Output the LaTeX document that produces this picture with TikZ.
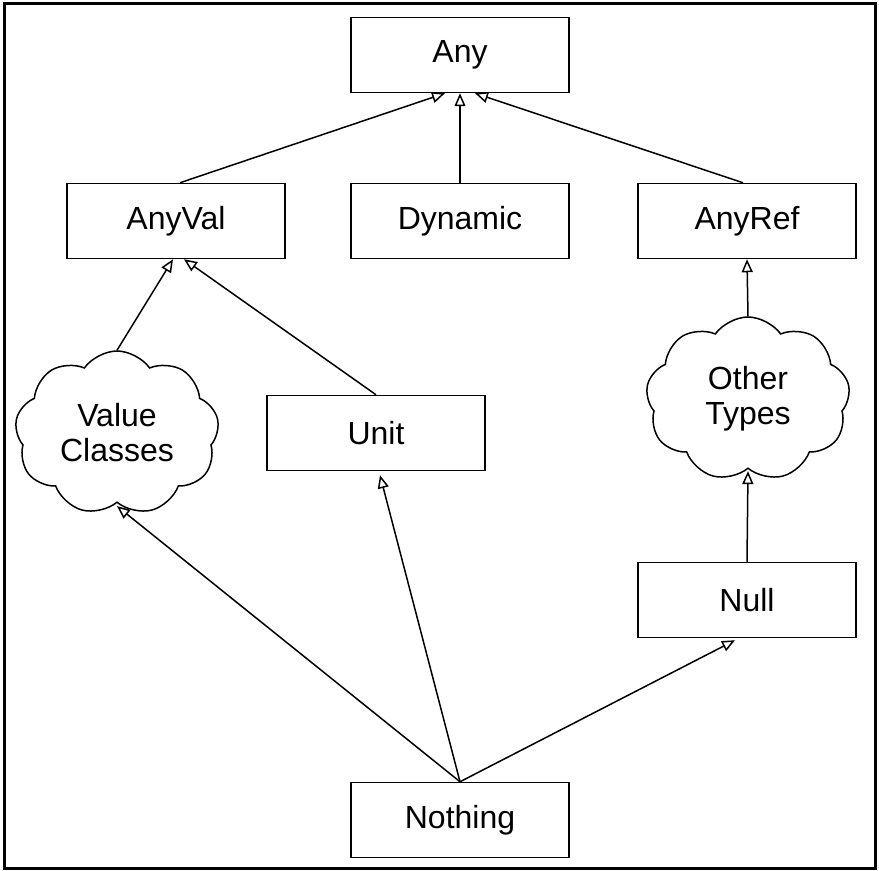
\documentclass[tikz,border=0pt]{standalone}
\usepackage{fontspec}
\setmainfont{Liberation Sans}
\usetikzlibrary{shapes.symbols,arrows.meta}
\newcommand{\typeFont}[0]{\fontsize{16}{17.5}\selectfont}

\begin{document}
\begin{tikzpicture}[x=0.5pt, y=-0.5pt, line width=0.75pt, >={Triangle[open,length=6.5pt,width=5.5pt]}]
  \tikzset{typebox/.style={draw, minimum width=109pt, minimum height=37.5pt, font=\typeFont},
    typecloud/.style={draw, cloud, cloud puffs=9, cloud puff arc=110, cloud ignores aspect,
      minimum width=102pt, minimum height=82pt, inner sep=0pt, align=center, font=\typeFont}}
  \useasboundingbox (0,0) rectangle (879,871);
  \draw[line width=1.5pt] (4,4) rectangle (875,868);
  \node[typebox] (Any) at (460,55) {Any};
  \node[typebox] (AnyVal) at (176,221) {AnyVal};
  \node[typebox] (Dynamic) at (460,221) {Dynamic};
  \node[typebox] (AnyRef) at (747,221) {AnyRef};
  \node[typecloud] (ValCls) at (117,433) {Value\\Classes};
  \node[typebox] (Unit) at (376,433) {Unit};
  \node[typecloud] (Other) at (748,399) {Other\\Types};
  \node[typebox] (Null) at (747,600) {Null};
  \node[typebox] (Nothing) at (460,820) {Nothing};
  \draw[->] ([xshift=2pt]AnyVal.north) -- ([xshift=-7.5pt]Any.south);
  \draw[->] (Dynamic) -- (Any);
  \draw[->] ([xshift=-2pt]AnyRef.north) -- ([xshift=7.5pt]Any.south);
  \draw[->] (ValCls.north) -- ([xshift=-1.5pt]AnyVal.south);
  \draw[->] (Unit.north) -- ([xshift=4pt]AnyVal.south);
  \draw[->] (Other.north) -- (AnyRef.south);
  \draw[->] (Null.north) -- ([yshift=-1pt]Other.south);
  \draw[->] (Nothing.north) -- ([yshift=-1.5pt]ValCls.south);
  \draw[->] (Nothing.north) -- ([xshift=2pt,yshift=-2pt]Unit.south);
  \draw[->] (Nothing.north) -- ([xshift=-6pt,yshift=-1pt]Null.south);
\end{tikzpicture}
\end{document}
